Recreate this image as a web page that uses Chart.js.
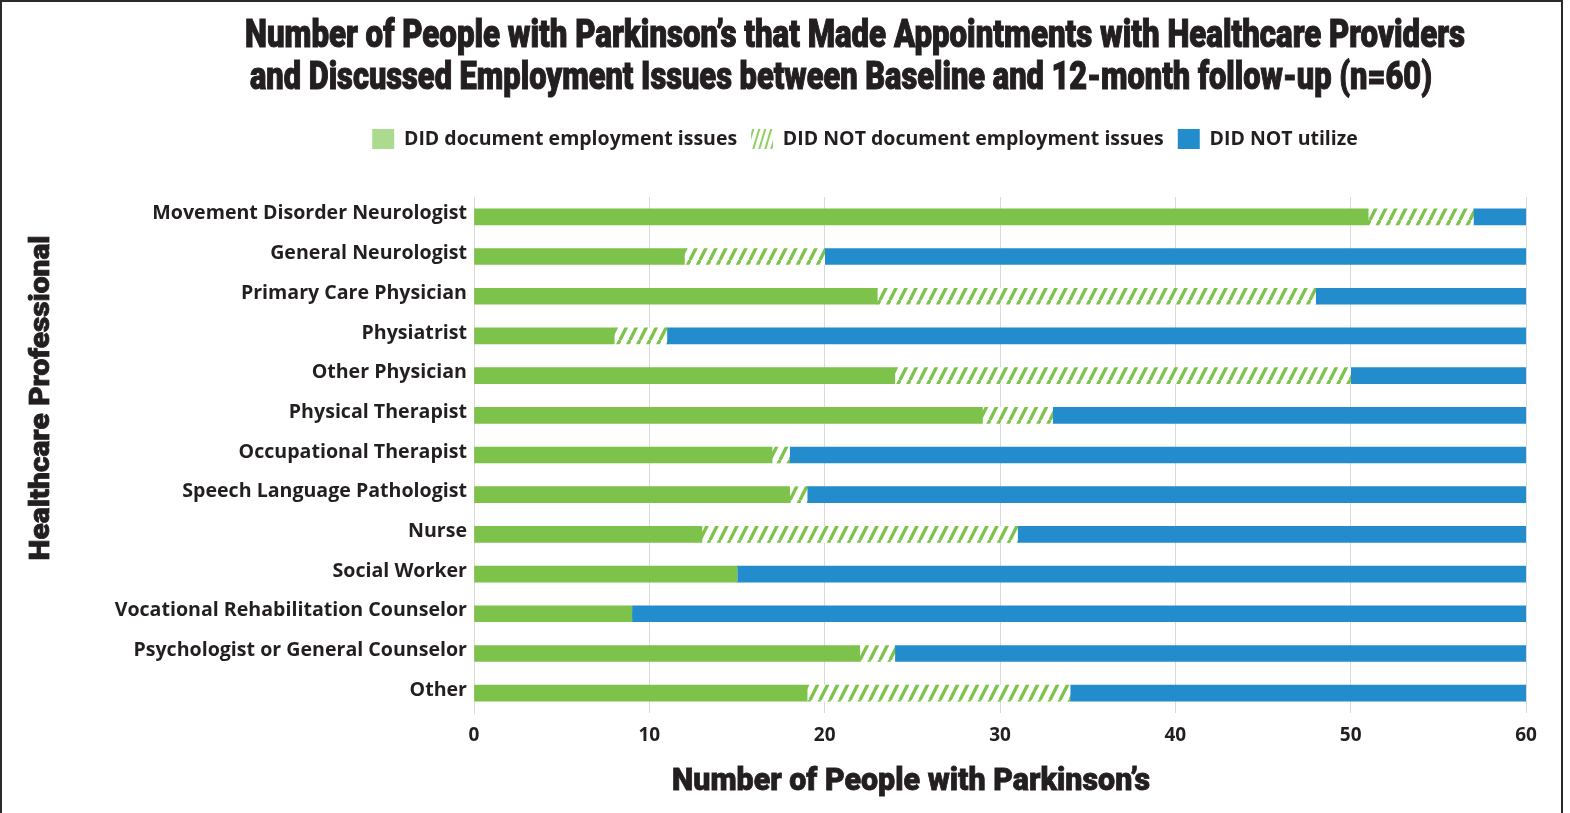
<!DOCTYPE html>
<html>
<head>
<meta charset="utf-8">
<script src="https://cdn.jsdelivr.net/npm/chart.js@4.4.1/dist/chart.umd.min.js"></script>
<style>
  html, body { margin: 0; padding: 0; background: #fff; width: 1570px; height: 813px; overflow: hidden; }
  #frame { position: absolute; left: 0; top: 0; width: 1563px; height: 900px; border: 2px solid #2a2a2a; box-sizing: border-box; pointer-events: none; }
  #wrap { position: absolute; left: 0; top: 0; width: 1570px; height: 813px; }
  .txt { position: absolute; white-space: nowrap; color: #231f20; font-family: Roboto, "Open Sans", sans-serif; font-weight: 900; line-height: 1; -webkit-text-stroke: 1.1px #231f20; }
  .txt span { display: inline-block; transform-origin: 0 50%; }
</style>
</head>
<body>
<div id="wrap"><canvas id="c" width="1570" height="813"></canvas></div>
<div id="frame"></div>
<div class="txt" id="t1" style="left:245px; top:15px; font-size:38px;"><span>Number of People with Parkinson’s that Made Appointments with Healthcare Providers</span></div>
<div class="txt" id="t2" style="left:250px; top:57px; font-size:38px;"><span>and Discussed Employment Issues between Baseline and 12-month follow-up (n=60)</span></div>
<div class="txt" id="xt" style="left:672px; top:763px; font-size:32px; -webkit-text-stroke: 0.8px #231f20;"><span>Number of People with Parkinson’s</span></div>
<div class="txt" id="yt" style="left:40px; top:398px; font-size:28px; -webkit-text-stroke: 0.8px #231f20;"><span>Healthcare Professional</span></div>
<script>
// ---- data ----
const categories = [
  "Movement Disorder Neurologist",
  "General Neurologist",
  "Primary Care Physician",
  "Physiatrist",
  "Other Physician",
  "Physical Therapist",
  "Occupational Therapist",
  "Speech Language Pathologist",
  "Nurse",
  "Social Worker",
  "Vocational Rehabilitation Counselor",
  "Psychologist or General Counselor",
  "Other"
];
const didDocument    = [51, 12, 23,  8, 24, 29, 17, 18, 13, 15,  9, 22, 19];
const didNotDocument = [ 6,  8, 25,  3, 26,  4,  1,  1, 18,  0,  0,  2, 15];
const didNotUtilize  = [ 3, 40, 12, 49, 10, 27, 42, 41, 29, 45, 51, 36, 26];
const seriesNames = ["DID document employment issues", "DID NOT document employment issues", "DID NOT utilize"];
const xTicks = [0, 10, 20, 30, 40, 50, 60];

// ---- styles ----
const GREEN = '#7dc24b';
const GREEN_LIGHT = '#acdb8f';
const BLUE = '#238ccc';
const TEXT = '#231f20';

function makeHatch(color, bg) {
  const c = document.createElement('canvas');
  c.width = 10; c.height = 20;
  const g = c.getContext('2d');
  g.fillStyle = bg; g.fillRect(0, 0, 10, 20);
  g.strokeStyle = color; g.lineWidth = 3.4; g.lineCap = 'butt';
  for (const x of [-10, 0, 10]) {
    g.beginPath(); g.moveTo(x, 20); g.lineTo(x + 10, 0); g.stroke();
  }
  return g.createPattern(c, 'repeat');
}
function makeLegendHatch(color) {
  const c = document.createElement('canvas');
  c.width = 6; c.height = 20;
  const g = c.getContext('2d');
  g.fillStyle = '#fff'; g.fillRect(0, 0, 6, 20);
  g.strokeStyle = color; g.lineWidth = 2; g.lineCap = 'butt';
  for (const x of [-6, 0, 6]) {
    g.beginPath(); g.moveTo(x, 20); g.lineTo(x + 6, 0); g.stroke();
  }
  return g.createPattern(c, 'repeat');
}
const hatch = makeHatch(GREEN, '#ffffff');
const hatchLegend = makeLegendHatch('#8fcf62');

const legendTop = 115;
const areaTop = 197;
const legendCenterX = 865;

const legendFitPlugin = {
  id: 'legendFit',
  beforeInit(chart) {
    const orig = chart.legend.fit;
    chart.legend.fit = function () {
      orig.bind(chart.legend)();
      this.height = areaTop - legendTop;
    };
  },
  afterLayout(chart) {
    const lg = chart.legend;
    const cur = (lg.left + lg.right) / 2;
    const d = legendCenterX - cur;
    lg.left += d; lg.right += d;
  }
};

new Chart(document.getElementById('c'), {
  type: 'bar',
  data: {
    labels: categories,
    datasets: [
      { label: seriesNames[0], data: didDocument, backgroundColor: GREEN, barThickness: 16, borderWidth: 0 },
      { label: seriesNames[1], data: didNotDocument, backgroundColor: hatch, barThickness: 16, borderWidth: 0 },
      { label: seriesNames[2], data: didNotUtilize, backgroundColor: BLUE, barThickness: 16, borderWidth: 0 }
    ]
  },
  plugins: [legendFitPlugin],
  options: {
    indexAxis: 'y',
    responsive: false,
    animation: false,
    devicePixelRatio: 1,
    layout: { padding: { left: 0, right: 44, top: legendTop, bottom: 0 } },
    plugins: {
      title: { display: false },
      tooltip: { enabled: false },
      legend: {
        position: 'top',
        align: 'center',
        labels: {
          boxWidth: 22,
          boxHeight: 20,
          padding: 14,
          color: TEXT,
          font: { family: '"Open Sans", sans-serif', weight: 'bold', size: 19.5 },
          generateLabels(chart) {
            const fills = [GREEN_LIGHT, hatchLegend, BLUE];
            return chart.data.datasets.map((ds, i) => ({
              text: ds.label,
              fillStyle: fills[i],
              strokeStyle: 'rgba(0,0,0,0)',
              lineWidth: 0,
              hidden: false,
              datasetIndex: i,
              fontColor: TEXT
            }));
          }
        }
      }
    },
    scales: {
      x: {
        stacked: true,
        min: 0,
        max: 60,
        afterBuildTicks(scale) { scale.ticks = xTicks.map(v => ({ value: v })); },
        afterFit(scale) { scale.height = 813 - 713; },
        grid: { color: '#d9d9d9', lineWidth: 1, drawTicks: false },
        border: { display: false },
        ticks: {
          padding: 11,
          color: TEXT,
          font: { family: '"Open Sans", sans-serif', weight: 'bold', size: 19 }
        }
      },
      y: {
        stacked: true,
        afterFit(scale) { scale.width = 474; },
        grid: { display: false, drawTicks: false },
        border: { display: true, color: '#d9d9d9', width: 1 },
        ticks: {
          padding: 7,
          labelOffset: -3,
          color: TEXT,
          autoSkip: false,
          font: { family: '"Open Sans", sans-serif', weight: 'bold', size: 19.6 }
        }
      }
    }
  }
});

// ---- fit HTML titles to reference widths ----
function applyFit(id, target) {
  const s = document.querySelector('#' + id + ' span');
  const w = s.getBoundingClientRect().width;
  s.style.transform = 'scaleX(' + (target / w) + ')';
}
applyFit('t1', 1220);
applyFit('t2', 1182);
applyFit('xt', 478);
(function () {
  const el = document.getElementById('yt');
  const s = el.querySelector('span');
  const w = s.getBoundingClientRect().width;
  const k = 325 / w;
  s.style.transformOrigin = '50% 50%';
  el.style.transform = 'translate(-50%, -50%) rotate(-90deg)';
  s.style.transform = 'scaleX(' + k + ')';
})();
</script>
</body>
</html>
